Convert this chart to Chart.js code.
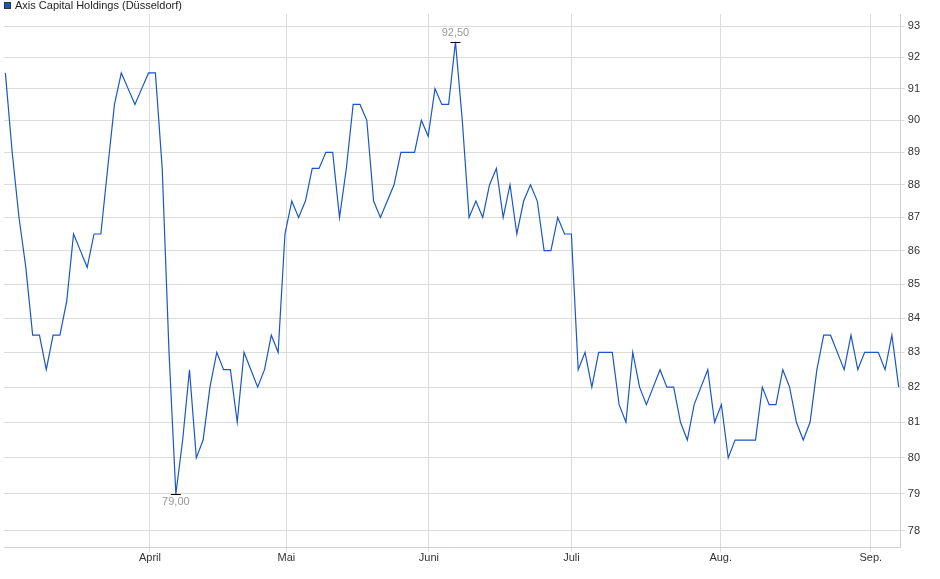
<!DOCTYPE html>
<html>
<head>
<meta charset="utf-8">
<script src="https://cdn.jsdelivr.net/npm/chart.js@4"></script>
<style>
  body { margin: 0; background: #fff; }
  canvas { display: block; }
</style>
</head>
<body>
<canvas id="chart" width="940" height="579"></canvas>
<script>
// daily closing prices
const prices = [
  91.5, 89, 87, 85.5, 83.5, 83.5, 82.5, 83.5, 83.5, 84.5, 86.5, 86, 85.5, 86.5, 86.5, 88.5, 90.5, 91.5, 91, 90.5,
  91, 91.5, 91.5, 88.5, 83, 79, 80.5, 82.5, 80, 80.5, 82, 83, 82.5, 82.5, 81, 83, 82.5, 82, 82.5, 83.5,
  83, 86.5, 87.5, 87,
  87.5, 88.5, 88.5, 89, 89, 87, 88.5, 90.5, 90.5, 90, 87.5, 87, 87.5, 88, 89, 89, 89, 90, 89.5, 91,
  90.5, 90.5, 92.5, 90, 87, 87.5, 87, 88, 88.5, 87, 88, 86.5, 87.5, 88, 87.5, 86, 86, 87, 86.5, 86.5,
  82.5, 83, 82,
  83, 83, 83, 81.5, 81, 83, 82, 81.5, 82, 82.5, 82, 82, 81, 80.5, 81.5, 82, 82.5, 81, 81.5, 80,
  80.5, 80.5, 80.5, 80.5, 82, 81.5, 81.5, 82.5, 82, 81, 80.5, 81, 82.5, 83.5, 83.5, 83, 82.5, 83.5, 82.5, 83,
  83, 83, 82.5, 83.5, 82
]
const monthLabels = ["April", "Mai", "Juni", "Juli", "Aug.", "Sep."]
const monthPositions = [21.2, 41.2, 62.1, 83, 104.9, 126.9]
const priceTicks = [78, 79, 80, 81, 82, 83, 84, 85, 86, 87, 88, 89, 90, 91, 92, 93]
const seriesName = "Axis Capital Holdings (Düsseldorf)"

const points = prices.map((p, i) => ({ x: i, y: p }))
const font = "11px 'Liberation Sans', Arial"

// marks the high and the low with a small bar and value, and draws the legend
const extras = {
  id: "extras",
  afterDatasetsDraw(chart) {
    const ctx = chart.ctx
    const xs = chart.scales.x, ys = chart.scales.y
    const hi = prices.indexOf(Math.max(...prices))
    const lo = prices.indexOf(Math.min(...prices))
    ctx.save()
    ctx.font = font
    ctx.textAlign = "center"
    ;[[hi, -1], [lo, 1]].forEach(([i, dir]) => {
      const px = xs.getPixelForValue(i), py = ys.getPixelForValue(prices[i])
      ctx.strokeStyle = "#000"
      ctx.lineWidth = 1
      ctx.beginPath()
      ctx.moveTo(px - 5, Math.round(py) + 0.5)
      ctx.lineTo(px + 5, Math.round(py) + 0.5)
      ctx.stroke()
      ctx.fillStyle = "#999"
      ctx.textBaseline = dir < 0 ? "bottom" : "top"
      ctx.fillText(prices[i].toFixed(2).replace(".", ","), px, py + dir * 3)
    })
    // legend
    ctx.fillStyle = "#1a56c4"
    ctx.fillRect(4, 2, 7, 7)
    ctx.strokeStyle = "#333"
    ctx.strokeRect(4.5, 2.5, 6, 6)
    ctx.fillStyle = "#222"
    ctx.textAlign = "left"
    ctx.textBaseline = "middle"
    ctx.fillText(seriesName, 15, 6)
    ctx.restore()
  }
}

new Chart(document.getElementById("chart"), {
  type: "line",
  data: {
    datasets: [{
      label: seriesName,
      data: points,
      borderColor: "#1a56c4",
      borderWidth: 1.2,
      pointRadius: 0,
      tension: 0
    }]
  },
  options: {
    responsive: false,
    animation: false,
    layout: { padding: { left: 4, right: 17, top: 14, bottom: 14 } },
    plugins: {
      tooltip: { enabled: false },
      legend: { display: false }
    },
    scales: {
      x: {
        type: "linear",
        min: -0.2,
        max: 131.3,
        afterBuildTicks: (axis) => { axis.ticks = monthPositions.map(v => ({ value: v })) },
        ticks: {
          autoSkip: false,
          maxRotation: 0,
          padding: 0,
          color: "#333",
          font: { size: 11, family: "'Liberation Sans', Arial" },
          callback: (v, i) => monthLabels[i]
        },
        grid: { color: "#dcdcdc", tickLength: 4 },
        border: { color: "#cfcfcf" }
      },
      y: {
        type: "logarithmic",
        position: "right",
        min: 77.53,
        max: 93.4,
        afterBuildTicks: (axis) => { axis.ticks = priceTicks.map(v => ({ value: v })) },
        ticks: {
          color: "#333",
          padding: 3,
          font: { size: 11, family: "'Liberation Sans', Arial" },
          callback: (v) => String(v)
        },
        grid: { color: "#dcdcdc", tickLength: 4 },
        border: { color: "#cfcfcf" }
      }
    }
  },
  plugins: [extras]
})
</script>
</body>
</html>
